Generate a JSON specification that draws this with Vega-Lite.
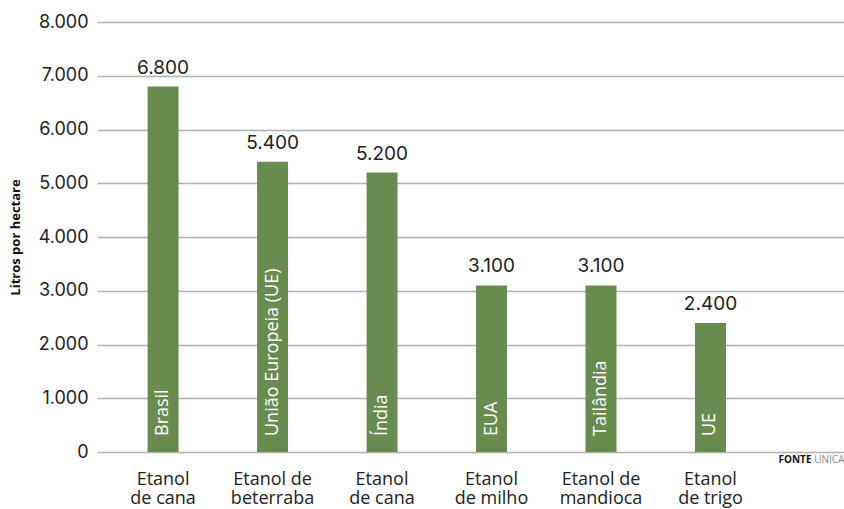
{
  "$schema": "https://vega.github.io/schema/vega-lite/v6.json",
  "width": 747,
  "height": 430,
  "autosize": "none",
  "padding": {"left": 97, "top": 22, "right": 0, "bottom": 57},
  "background": "white",
  "config": {
    "view": {"stroke": null},
    "locale": {"number": {"decimal": ",", "thousands": ".", "grouping": [3], "currency": ["R$", ""]}}
  },
  "data": {
    "values": [
      {"key": "Etanol|de cana|Brasil", "pais": "Brasil", "litros": 6800},
      {"key": "Etanol de|beterraba|UE1", "pais": "União Europeia (UE)", "litros": 5400},
      {"key": "Etanol|de cana|Índia", "pais": "Índia", "litros": 5200},
      {"key": "Etanol|de milho|EUA", "pais": "EUA", "litros": 3100},
      {"key": "Etanol de|mandioca|Tailândia", "pais": "Tailândia", "litros": 3100},
      {"key": "Etanol|de trigo|UE2", "pais": "UE", "litros": 2400, "fonteA": "FONTE", "fonteB": "UNICA"}
    ]
  },
  "encoding": {
    "x": {
      "field": "key",
      "type": "nominal",
      "sort": null,
      "scale": {"paddingInner": 0.717, "paddingOuter": 0.77, "align": 0.3},
      "axis": {
        "title": null,
        "labelAngle": 0,
        "domain": false,
        "ticks": false,
        "labelPadding": 18,
        "labelBaseline": "top",
        "labelFont": "Open Sans",
        "labelFontSize": 18,
        "labelLineHeight": 19,
        "labelColor": "#222222",
        "labelExpr": "[split(datum.label, '|')[0], split(datum.label, '|')[1]]"
      }
    },
    "y": {
      "field": "litros",
      "type": "quantitative",
      "scale": {"domain": [0, 8000], "nice": false},
      "axis": {
        "title": "Litros por hectare",
        "titleFont": "Open Sans",
        "titleFontSize": 13,
        "titleFontWeight": "bold",
        "titleColor": "#111111",
        "titlePadding": 16,
        "values": [0, 1000, 2000, 3000, 4000, 5000, 6000, 7000, 8000],
        "format": ",d",
        "domain": false,
        "ticks": false,
        "labelPadding": 9,
        "labelFont": "Inter",
        "labelFontSize": 18,
        "labelColor": "#222222",
        "grid": true,
        "gridColor": "#b0b0b0",
        "gridWidth": 1.5
      }
    }
  },
  "layer": [
    {"mark": {"type": "bar", "color": "#6a8b4f"}},
    {
      "mark": {"type": "text", "font": "Inter", "fontSize": 19, "dy": -13, "baseline": "alphabetic", "color": "#222222"},
      "encoding": {"text": {"field": "litros", "type": "quantitative", "format": ",d"}}
    },
    {
      "mark": {"type": "text", "font": "Open Sans", "fontSize": 18, "angle": 270, "align": "left", "baseline": "middle", "dx": 16, "color": "white"},
      "encoding": {"y": {"datum": 0}, "text": {"field": "pais"}}
    },
    {
      "transform": [{"filter": "isValid(datum.fonteB)"}],
      "mark": {"type": "text", "font": "Open Sans", "fontSize": 10, "align": "right", "baseline": "alphabetic", "dy": 11, "dx": 134, "color": "#8a8a8a"},
      "encoding": {"y": {"datum": 0}, "text": {"field": "fonteB"}}
    },
    {
      "transform": [{"filter": "isValid(datum.fonteA)"}],
      "mark": {"type": "text", "font": "Open Sans", "fontSize": 10, "fontWeight": "bold", "align": "right", "baseline": "alphabetic", "dy": 11, "dx": 101, "color": "#111111"},
      "encoding": {"y": {"datum": 0}, "text": {"field": "fonteA"}}
    }
  ]
}
